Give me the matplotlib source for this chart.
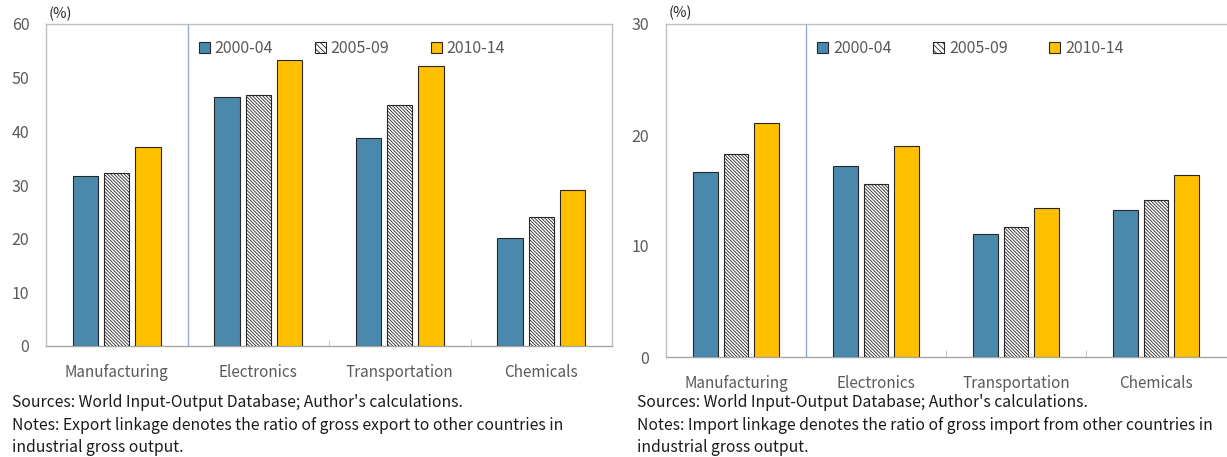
import matplotlib.pyplot as plt
import numpy as np

categories = ["Manufacturing", "Electronics", "Transportation", "Chemicals"]
periods = ["2000-04", "2005-09", "2010-14"]

export_2000 = [31.7, 46.4, 38.8, 20.1]
export_2005 = [32.2, 46.8, 45.0, 24.1]
export_2010 = [37.0, 53.2, 52.2, 29.1]

import_2000 = [16.7, 17.2, 11.1, 13.2]
import_2005 = [18.3, 15.6, 11.7, 14.1]
import_2010 = [21.1, 19.0, 13.4, 16.4]

source_text = "Sources: World Input-Output Database; Author's calculations."
export_note = "Notes: Export linkage denotes the ratio of gross export to other countries in\nindustrial gross output."
import_note = "Notes: Import linkage denotes the ratio of gross import from other countries in\nindustrial gross output."

plt.rcParams['font.family'] = ['Noto Sans CJK KR', 'DejaVu Sans']
plt.rcParams['hatch.linewidth'] = 0.6
plt.rcParams['hatch.color'] = '#3a3a3a'

W, H = 1227, 457
fig = plt.figure(figsize=(W / 100, H / 100), dpi=100)

BLUE = "#4A89AC"
YELLOW = "#FFC000"
GREY = "#595959"
FRAME = "#BFBFBF"
HATCH = "\\" * 10


def px_axes(x0, y0, x1, y1):
    return fig.add_axes([x0 / W, 1 - y1 / H, (x1 - x0) / W, (y1 - y0) / H])


def draw_panel(ax, s1, s2, s3, ymax, step):
    x = np.arange(len(categories))
    w = 0.178
    d = 0.221
    ax.bar(x - d, s1, w, color=BLUE, edgecolor="#262626", linewidth=0.8, zorder=3)
    ax.bar(x, s2, w, color="white", edgecolor="#262626", hatch=HATCH, linewidth=0.8, zorder=3)
    ax.bar(x + d, s3, w, color=YELLOW, edgecolor="#262626", linewidth=0.8, zorder=3)

    ax.set_xlim(-0.5, len(categories) - 0.5)
    ax.set_ylim(0, ymax)
    ax.set_yticks(np.arange(0, ymax + 0.1, step))
    ax.set_xticks(x)
    ax.set_xticklabels(categories)
    ax.set_xticks(np.arange(0.5, len(categories) - 0.5, 1), minor=True)
    ax.tick_params(axis="x", which="major", length=0, pad=13, labelsize=11, labelcolor=GREY)
    ax.tick_params(axis="x", which="minor", length=5, direction="in", color=FRAME)
    ax.tick_params(axis="y", length=0, pad=12, labelsize=11.5, labelcolor=GREY)

    for sp in ax.spines.values():
        sp.set_color(FRAME)
        sp.set_linewidth(1.0)
    ax.spines["bottom"].set_color("#A6A6A6")

    ax.axvline(0.5, color="#8EA9DB", linewidth=1.0, zorder=2)

    handles = [
        plt.Rectangle((0, 0), 1, 1, facecolor=BLUE, edgecolor="#262626", linewidth=0.8),
        plt.Rectangle((0, 0), 1, 1, facecolor="white", edgecolor="#262626", hatch="\\" * 6, linewidth=0.8),
        plt.Rectangle((0, 0), 1, 1, facecolor=YELLOW, edgecolor="#262626", linewidth=0.8),
    ]
    leg = ax.legend(handles, periods, ncol=3, loc="upper left", bbox_to_anchor=(0.25, 0.985),
                    frameon=False, fontsize=11.5, handlelength=0.7, handleheight=0.7,
                    handletextpad=0.3, columnspacing=2.6, borderaxespad=0.3)
    for t in leg.get_texts():
        t.set_color(GREY)


ax1 = px_axes(46, 24, 612, 346)
draw_panel(ax1, export_2000, export_2005, export_2010, 60, 10)
ax1.text(0.005, 1.01, "(%)", transform=ax1.transAxes, fontsize=10.5, color="#262626", va="bottom")

ax2 = px_axes(666, 24, 1226, 357)
draw_panel(ax2, import_2000, import_2005, import_2010, 30, 10)
ax2.spines["right"].set_visible(False)
ax2.text(0.005, 1.01, "(%)", transform=ax2.transAxes, fontsize=10.5, color="#262626", va="bottom")

fig.text(12 / W, 1 - 394 / H, source_text, fontsize=11.3, color="#1a1a1a", va="top")
fig.text(12 / W, 1 - 417 / H, export_note, fontsize=11.3, color="#1a1a1a", va="top", linespacing=1.35)
fig.text(637 / W, 1 - 394 / H, source_text, fontsize=11.3, color="#1a1a1a", va="top")
fig.text(637 / W, 1 - 417 / H, import_note, fontsize=11.3, color="#1a1a1a", va="top", linespacing=1.35)

fig.savefig("out.png", dpi=100)
